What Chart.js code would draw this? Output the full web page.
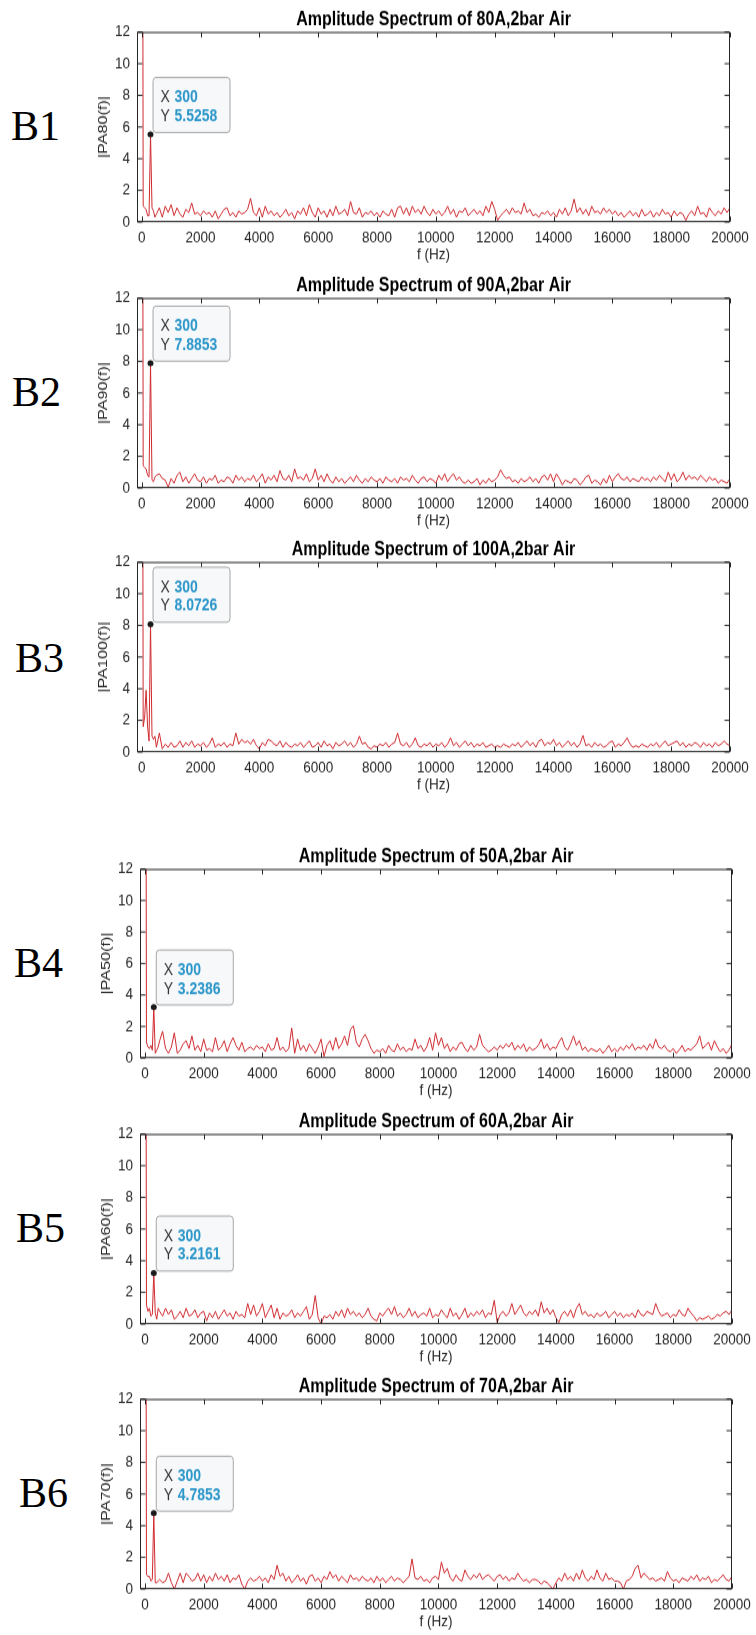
<!DOCTYPE html>
<html>
<head>
<meta charset="utf-8">
<script src="https://cdn.jsdelivr.net/npm/chart.js@4.4.0/dist/chart.umd.min.js"></script>
<style>
  body { margin: 0; background: #fff; }
  #page { position: relative; width: 756px; height: 1635px; overflow: hidden; background: #fff; }
  .panel { position: absolute; left: 0; width: 756px; }
  .panel canvas { display: block; transform-origin: 0 0; }
  .tag { position: absolute; font-family: "Liberation Serif", "Times New Roman", serif; font-size: 42px; line-height: 42px; color: #000; }
</style>
</head>
<body>
<div id="page"></div>
<script>
// FFT bins: 50 Hz steps below 500 Hz, then 100 Hz steps up to 20 kHz
const freqLowHz = [0, 50, 100, 150, 200, 250, 300, 350, 400, 450];
const highStartHz = 500;
const highStepHz = 100;

const xTickValues = [0, 2000, 4000, 6000, 8000, 10000, 12000, 14000, 16000, 18000, 20000];
const yTickValues = [0, 2, 4, 6, 8, 10, 12];

const titles = [
  "Amplitude Spectrum of 80A,2bar Air",
  "Amplitude Spectrum of 90A,2bar Air",
  "Amplitude Spectrum of 100A,2bar Air",
  "Amplitude Spectrum of 50A,2bar Air",
  "Amplitude Spectrum of 60A,2bar Air",
  "Amplitude Spectrum of 70A,2bar Air"
];
const yLabels = ["|PA80(f)|", "|PA90(f)|", "|PA100(f)|", "|PA50(f)|", "|PA60(f)|", "|PA70(f)|"];
const tags = ["B1", "B2", "B3", "B4", "B5", "B6"];
const tipHz = 300;
const tipValues = [5.5258, 7.8853, 8.0726, 3.2386, 3.2161, 4.7853];

// 80A
const amp80Low = [60, 1.0, 0.9, 0.8, 0.4, 0.4, 5.5258, 0.9, 0.7, 0.3];
const amp80High = [
  0.5, 0.9, 0.3, 1.0, 0.6, 1.1, 0.4, 0.9, 0.5, 0.3, 0.8, 0.6, 1.2, 0.5, 0.6,
  0.4, 0.7, 0.5, 0.6, 0.3, 0.7, 0.2, 0.5, 0.8, 0.9, 0.4, 0.6, 0.3, 0.7, 0.5, 0.6, 0.8, 1.5, 0.6, 0.4,
  0.9, 0.3, 1.0, 0.5, 0.7, 0.4, 0.6, 0.3, 0.5, 0.8, 0.4, 0.6, 0.2, 0.7, 0.5, 0.9, 0.4, 1.1, 0.6, 0.3,
  0.9, 0.5, 0.7, 0.3, 0.8, 0.4, 1.0, 0.5, 0.6, 0.8, 0.4, 1.3, 0.6, 0.5, 0.9, 0.3, 0.6, 0.5, 0.7, 0.4,
  0.6, 0.3, 0.7, 0.5, 0.4, 0.8, 0.3, 0.9, 1.0, 0.5, 0.9, 0.4, 1.0, 0.6, 0.8, 0.5, 1.0, 0.6, 0.4, 0.8,
  0.5, 0.7, 0.4, 0.6, 1.0, 0.5, 0.8, 0.3, 0.7, 0.6, 0.9, 0.4, 0.6, 0.8, 0.5, 0.7, 0.4, 1.0, 0.6, 1.3,
  0.8, 0.1, 0.4, 0.6, 0.8, 0.5, 0.9, 0.6, 0.7, 0.5, 1.2, 0.6, 0.8, 0.4, 0.5, 0.3, 0.6, 0.5, 0.7, 0.4,
  0.6, 0.3, 0.8, 0.5, 0.9, 0.4, 0.7, 1.45, 0.6, 0.9, 0.5, 0.8, 0.4, 1.0, 0.6, 0.7, 0.5, 0.9, 0.6, 0.8,
  0.5, 0.7, 0.4, 0.6, 0.3, 0.5, 0.7, 0.4, 0.6, 0.3, 0.8, 0.4, 0.5, 0.7, 0.3, 0.6, 0.4, 0.8, 0.5, 0.6,
  0.3, 0.7, 0.4, 0.6, 0.5, 0.1, 0.5, 0.7, 0.4, 1.0, 0.5, 0.6, 0.3, 0.9, 0.6, 0.4, 0.7, 0.5, 0.9, 0.6,
  0.9
];

// 90A
const amp90Low = [60, 1.4, 1.3, 1.2, 0.8, 0.7, 7.8853, 0.5, 0.4, 0.7];
const amp90High = [
  0.8, 0.9, 0.6, 0.5, 0.05, 0.6, 0.3, 0.8, 1.0, 0.4, 0.7, 0.3, 0.6, 0.9, 0.5,
  0.4, 0.7, 0.3, 0.6, 0.5, 0.8, 0.3, 0.5, 0.4, 0.7, 0.6, 0.3, 0.8, 0.5, 0.7, 0.4, 0.6, 0.5, 0.8, 0.4,
  0.6, 0.9, 0.3, 0.7, 0.5, 0.8, 0.4, 1.1, 0.6, 0.5, 0.8, 0.4, 1.2, 0.6, 0.7, 0.5, 0.9, 0.4, 0.6, 1.2,
  0.5, 0.8, 0.4, 0.9, 0.5, 0.3, 0.7, 0.4, 0.6, 0.3, 0.5, 0.7, 0.4, 0.8, 0.5, 0.3, 0.6, 0.4, 0.7, 0.5,
  0.4, 0.6, 0.3, 0.7, 0.5, 0.4, 0.6, 0.3, 0.7, 0.5, 0.6, 0.4, 0.8, 0.5, 0.3, 0.6, 0.7, 0.4, 0.6, 0.5,
  0.3, 0.8, 0.5, 0.9, 0.4, 0.7, 0.9, 0.5, 0.7, 0.4, 0.3, 0.5, 0.3, 0.4, 0.6, 0.2, 0.5, 0.3, 0.6, 0.4,
  0.5, 0.7, 1.15, 0.8, 0.6, 0.7, 0.4, 0.5, 0.3, 0.6, 0.4, 0.5, 0.7, 0.4, 0.6, 0.3, 0.7, 0.8, 0.5, 0.9,
  0.4, 0.9, 0.6, 0.2, 0.5, 0.4, 0.3, 0.6, 0.5, 0.2, 0.4, 0.7, 0.8, 0.3, 0.5, 0.4, 0.2, 0.6, 0.3, 0.8,
  0.4, 0.7, 0.9, 0.6, 0.5, 0.7, 0.4, 0.6, 0.5, 0.4, 0.7, 0.5, 0.6, 0.4, 0.7, 0.5, 0.8, 0.6, 0.4, 1.0,
  0.5, 0.9, 0.4, 0.6, 1.0, 0.5, 0.8, 0.6, 0.7, 0.5, 0.8, 0.6, 0.4, 0.7, 0.5, 0.6, 0.3, 0.5, 0.4, 0.3,
  0.6
];

// 100A
const amp100Low = [60, 1.6, 2.2, 3.9, 1.6, 0.7, 8.0726, 1.0, 0.8, 1.0];
const amp100High = [
  0.3, 1.2, 0.2, 0.5, 0.3, 0.6, 0.3, 0.4, 0.7, 0.3, 0.6, 0.4, 0.7, 0.3, 0.5,
  0.4, 0.6, 0.3, 0.5, 0.9, 0.3, 0.5, 0.4, 0.6, 0.3, 0.5, 0.4, 1.2, 0.5, 0.8, 0.6, 0.7, 0.5, 0.8, 0.4,
  0.2, 0.6, 0.4, 0.8, 0.7, 0.5, 0.4, 0.7, 0.3, 0.6, 0.4, 0.3, 0.5, 0.4, 0.6, 0.3, 0.5, 0.7, 0.3, 0.4,
  0.6, 0.3, 0.7, 0.4, 0.5, 0.2, 0.6, 0.4, 0.5, 0.7, 0.4, 0.6, 0.3, 0.5, 1.0, 0.5, 0.6, 0.3, 0.2, 0.4,
  0.3, 0.5, 0.4, 0.6, 0.3, 0.5, 0.6, 1.2, 0.5, 0.4, 0.6, 0.3, 0.5, 0.9, 0.4, 0.3, 0.5, 0.4, 0.6, 0.3,
  0.5, 0.4, 0.6, 0.3, 0.5, 0.9, 0.4, 0.6, 0.3, 0.5, 0.7, 0.4, 0.6, 0.3, 0.5, 0.4, 0.6, 0.3, 0.4, 0.5,
  0.3, 0.4, 0.3, 0.5, 0.4, 0.3, 0.5, 0.4, 0.6, 0.3, 0.5, 0.7, 0.4, 0.6, 0.3, 0.7, 0.8, 0.4, 0.6, 0.5,
  0.8, 0.4, 0.6, 0.3, 0.5, 0.7, 0.4, 0.6, 0.3, 0.5, 1.05, 0.4, 0.5, 0.3, 0.6, 0.4, 0.5, 0.3, 0.4, 0.6,
  0.7, 0.3, 0.5, 0.4, 0.6, 0.9, 0.5, 0.3, 0.4, 0.3, 0.5, 0.4, 0.3, 0.5, 0.4, 0.6, 0.3, 0.5, 0.7, 0.4,
  0.5, 0.6, 0.7, 0.4, 0.6, 0.3, 0.5, 0.4, 0.6, 0.5, 0.3, 0.6, 0.4, 0.5, 0.3, 0.6, 0.4, 0.5, 0.7, 0.5,
  0.4
];

// 50A
const amp50Low = [60, 1.0, 0.7, 0.6, 0.8, 0.5, 3.2386, 0.3, 0.5, 0.7];
const amp50High = [
  1.1, 1.7, 0.6, 0.3, 0.7, 1.6, 0.3, 0.5, 0.9, 1.1, 0.6, 1.4, 0.5, 0.8, 0.4,
  1.2, 0.5, 0.6, 0.4, 1.3, 0.5, 0.7, 1.1, 0.4, 0.9, 1.3, 0.8, 0.5, 1.0, 0.4, 0.6, 0.7, 0.5, 0.8, 0.6,
  0.7, 0.4, 0.9, 0.5, 0.6, 1.3, 0.5, 0.7, 0.4, 0.6, 1.9, 0.3, 1.2, 0.5, 0.8, 0.4, 0.9, 0.6, 0.3, 0.7,
  1.2, 0.1, 0.8, 1.1, 0.5, 1.3, 0.6, 0.9, 1.4, 0.8, 1.8, 2.05, 1.0, 0.7, 1.2, 1.5, 1.1, 0.6, 0.3, 0.5,
  0.4, 0.6, 0.3, 0.8, 0.5, 0.4, 0.9, 0.5, 0.7, 0.4, 0.6, 0.5, 1.2, 0.6, 0.8, 0.4, 0.7, 1.3, 0.5, 1.6,
  0.8, 1.3, 0.6, 0.9, 0.4, 0.7, 0.5, 0.9, 1.0, 0.6, 0.4, 0.8, 0.5, 0.7, 1.5, 0.8, 0.6, 0.4, 0.5, 0.7,
  0.5, 0.8, 0.6, 0.9, 0.7, 1.0, 0.5, 0.8, 0.6, 0.9, 0.4, 0.7, 0.5, 0.6, 0.8, 1.2, 0.6, 0.9, 0.5, 0.7,
  0.6, 1.0, 1.3, 0.7, 0.5, 0.9, 1.4, 0.8, 1.1, 0.5, 0.7, 0.4, 0.6, 0.5, 0.4, 0.6, 0.3, 0.5, 0.8, 0.4,
  0.6, 0.4, 0.7, 0.5, 0.8, 0.6, 0.9, 0.5, 0.7, 0.6, 0.8, 0.5, 0.9, 0.6, 1.2, 0.7, 0.6, 0.8, 0.5, 0.4,
  0.6, 0.3, 0.5, 0.8, 0.4, 0.6, 0.5, 0.7, 0.9, 1.4, 0.6, 0.8, 1.0, 0.5, 1.1, 0.7, 0.4, 0.6, 0.3, 0.5,
  0.9
];

// 60A
const amp60Low = [60, 1.2, 0.8, 1.0, 0.5, 0.6, 3.2161, 0.7, 0.3, 1.0];
const amp60High = [
  0.8, 0.5, 1.0, 0.6, 0.9, 0.3, 0.5, 0.8, 0.4, 1.0, 0.5, 0.6, 0.9, 0.4, 0.7,
  0.8, 0.2, 0.7, 0.4, 0.8, 0.3, 0.6, 0.9, 0.5, 0.7, 0.3, 0.8, 0.5, 0.6, 0.4, 1.3, 0.6, 1.2, 0.5, 0.8,
  1.3, 0.4, 0.8, 1.2, 0.4, 1.0, 0.3, 0.7, 0.5, 0.6, 0.9, 0.4, 0.7, 0.5, 0.8, 1.1, 0.3, 0.6, 1.8, 0.4,
  0.0, 0.5, 0.4, 0.6, 0.3, 0.8, 0.5, 0.9, 0.4, 1.0, 0.6, 0.8, 0.5, 0.7, 0.4, 0.6, 1.0, 0.5, 0.3, 0.2,
  0.7, 0.5, 0.8, 1.0, 0.6, 1.1, 0.5, 0.7, 0.4, 0.6, 1.0, 0.5, 0.8, 0.4, 0.6, 0.7, 0.5, 1.0, 0.4, 0.6,
  0.5, 0.9, 0.6, 0.4, 1.0, 0.5, 0.7, 0.3, 0.6, 1.0, 0.4, 0.7, 0.5, 0.8, 0.6, 0.9, 0.4, 0.7, 0.6, 1.5,
  0.1, 0.6, 0.8, 0.5, 0.7, 1.3, 0.6, 0.9, 1.2, 0.7, 0.5, 0.8, 0.6, 0.9, 0.5, 1.4, 0.7, 1.0, 0.6, 0.9,
  0.4, 0.1, 0.6, 0.8, 0.5, 0.9, 0.4, 1.0, 1.3, 0.6, 0.8, 0.5, 0.6, 0.4, 0.7, 0.5, 0.6, 0.8, 0.4, 0.6,
  0.8, 0.5, 0.7, 0.4, 0.6, 0.5, 0.7, 0.4, 0.9, 0.6, 0.5, 0.8, 0.7, 0.6, 1.3, 0.8, 0.5, 0.6, 0.7, 0.4,
  0.6, 0.5, 0.9, 0.6, 0.5, 1.0, 0.7, 0.5, 0.2, 0.4, 0.3, 0.4, 0.5, 0.3, 0.4, 0.6, 0.5, 0.7, 0.8, 0.6,
  0.9
];

// 70A
const amp70Low = [60, 0.9, 0.8, 0.8, 0.5, 0.6, 4.7853, 0.4, 0.4, 0.5];
const amp70High = [
  0.6, 0.4, 0.5, 1.0, 0.4, 0.0, 0.5, 1.0, 0.4, 1.0, 0.8, 0.5, 0.6, 1.0, 0.5,
  0.9, 0.4, 0.8, 0.5, 1.0, 0.6, 0.8, 0.5, 0.9, 0.4, 0.7, 0.6, 0.9, 0.3, 0.0, 0.5, 0.7, 0.5, 0.6, 0.8,
  0.5, 0.7, 0.4, 0.9, 0.6, 1.5, 0.8, 1.0, 0.5, 0.8, 0.4, 0.6, 0.9, 0.5, 0.7, 0.3, 0.8, 0.9, 0.5, 0.7,
  0.4, 0.8, 0.6, 1.1, 0.7, 0.9, 0.5, 0.8, 0.6, 0.4, 0.9, 0.6, 0.7, 0.5, 0.8, 0.6, 0.5, 0.7, 0.4, 0.8,
  0.5, 0.7, 0.4, 0.6, 0.8, 0.5, 0.7, 0.6, 0.4, 0.6, 0.8, 1.9, 0.7, 0.6, 0.8, 0.5, 0.6, 0.4, 0.7, 0.8,
  0.6, 1.7, 1.0, 1.3, 0.7, 0.5, 0.9, 0.6, 0.5, 1.2, 0.8, 0.6, 0.9, 0.7, 1.0, 0.6, 0.8, 0.9, 0.7, 0.5,
  0.8, 0.9, 0.6, 0.8, 0.5, 0.7, 0.6, 1.0, 0.7, 0.5, 0.6, 0.4, 0.6, 0.6, 0.5, 0.3, 0.5, 0.4, 0.2, 0.0,
  0.4, 0.7, 0.5, 1.0, 0.6, 0.8, 0.5, 1.0, 0.6, 1.2, 0.7, 0.5, 0.8, 0.6, 1.2, 0.7, 0.5, 1.0, 0.6, 0.7,
  0.5, 0.5, 0.4, 0.0, 0.5, 0.6, 0.8, 1.3, 1.5, 0.7, 1.0, 0.8, 0.6, 0.7, 0.5, 0.6, 0.7, 0.5, 1.1, 0.7,
  0.5, 0.6, 0.4, 0.7, 0.6, 0.5, 0.8, 0.6, 0.9, 0.5, 0.7, 0.6, 0.8, 0.4, 0.6, 0.5, 0.7, 0.9, 0.6, 0.5,
  0.8
];

const lowSeries = [amp80Low, amp90Low, amp100Low, amp50Low, amp60Low, amp70Low];
const highSeries = [amp80High, amp90High, amp100High, amp50High, amp60High, amp70High];

// where each subplot sits on the page (plot box edges, px)
const panels = [
  { top: 32, bottom: 222, left: 137, right: 730, xMin: -160, tagX: 11, tagY: 126 },
  { top: 298, bottom: 488, left: 137, right: 730, xMin: -160, tagX: 12, tagY: 392 },
  { top: 562, bottom: 752, left: 137, right: 730, xMin: -160, tagX: 15, tagY: 658 },
  { top: 869, bottom: 1058, left: 140, right: 732, xMin: -170, tagX: 14, tagY: 963 },
  { top: 1134, bottom: 1324, left: 140, right: 732, xMin: -170, tagX: 16, tagY: 1228 },
  { top: 1399, bottom: 1589, left: 140, right: 732, xMin: -170, tagX: 19, tagY: 1493 }
];

const FONT = "'Liberation Sans', Arial, Helvetica, sans-serif";
const axisColor = "#262626";
const lineColor = "#cf2a2f";
// the source figure was stretched vertically; canvases are drawn short and scaled back up
const STRETCH = 1.2;
const Y_AXIS_W = 45;
const TITLE_H = 32;   // page px above the plot box
const X_AXIS_H = 45;  // page px below the plot box
const page = document.getElementById("page");

// box round the axes with inward ticks, then the data tip
const matlabAxes = {
  id: "matlabAxes",
  afterDraw(chart, args, opts) {
    const { ctx, chartArea: a, scales: { x, y } } = chart;
    const l = Math.round(a.left) + 0.5, r = Math.round(a.right) - 0.5;
    const t = a.top + 0.4, b = a.bottom - 0.4;
    const tv = 5 / STRETCH;
    ctx.save();
    ctx.strokeStyle = axisColor;
    ctx.lineWidth = 1;
    ctx.strokeRect(l, t, r - l, b - t);
    ctx.beginPath();
    xTickValues.forEach(v => {
      const px = Math.round(x.getPixelForValue(v)) + 0.5;
      ctx.moveTo(px, t); ctx.lineTo(px, t + tv);
      ctx.moveTo(px, b); ctx.lineTo(px, b - tv);
    });
    yTickValues.forEach(v => {
      const py = y.getPixelForValue(v);
      ctx.moveTo(l, py); ctx.lineTo(l + 5, py);
      ctx.moveTo(r, py); ctx.lineTo(r - 5, py);
    });
    ctx.stroke();

    const px = x.getPixelForValue(tipHz);
    const py = y.getPixelForValue(opts.value);
    const bx = px + 2, by = py - 57 / STRETCH, bw = 77, bh = 55 / STRETCH;
    ctx.fillStyle = "rgba(246,248,250,0.96)";
    ctx.strokeStyle = "#a6a6a6";
    ctx.beginPath();
    ctx.roundRect(bx + 0.5, by, bw, bh, 3);
    ctx.fill();
    ctx.stroke();
    ctx.fillStyle = "#1a1a1a";
    ctx.beginPath();
    ctx.ellipse(px, py, 3, 3 / STRETCH, 0, 0, Math.PI * 2);
    ctx.fill();
    ctx.textBaseline = "middle";
    ctx.textAlign = "left";
    ctx.font = "14px " + FONT;
    ctx.fillStyle = "#333";
    ctx.fillText("X", bx + 8, by + 20 / STRETCH);
    ctx.fillText("Y", bx + 8, by + 39 / STRETCH);
    ctx.font = "bold 14px " + FONT;
    ctx.fillStyle = "#2b96c9";
    ctx.fillText(String(tipHz), bx + 22, by + 20 / STRETCH);
    ctx.fillText(opts.value.toFixed(4), bx + 22, by + 39 / STRETCH);
    ctx.restore();
  }
};

function makePanel(i) {
  const p = panels[i];
  const titleH = TITLE_H / STRETCH;
  const plotH = (p.bottom - p.top) / STRETCH;
  const canvasH = Math.ceil(titleH + plotH + X_AXIS_H / STRETCH);
  const xAxisH = canvasH - titleH - plotH;

  const tag = document.createElement("div");
  tag.className = "tag";
  tag.textContent = tags[i];
  tag.style.left = p.tagX + "px";
  tag.style.top = (p.tagY - 21) + "px";
  page.appendChild(tag);

  const wrap = document.createElement("div");
  wrap.className = "panel";
  wrap.style.top = (p.top - TITLE_H) + "px";
  wrap.style.height = Math.ceil(canvasH * STRETCH) + "px";
  const canvas = document.createElement("canvas");
  canvas.width = 756;
  canvas.height = canvasH;
  canvas.style.transform = "scaleY(" + STRETCH + ")";
  wrap.appendChild(canvas);
  page.appendChild(wrap);

  const points = [];
  lowSeries[i].forEach((v, k) => points.push({ x: freqLowHz[k], y: v }));
  highSeries[i].forEach((v, k) => points.push({ x: highStartHz + k * highStepHz, y: v }));

  const tickFont = { family: FONT, size: 13.5 };
  const titleFontSize = 16;
  // title centre 12 page px above the plot box
  const titleTop = titleH - 12.2 / STRETCH - titleFontSize * 0.6;
  // x tick labels 16 px and axis title 33 px below the plot box
  const xTickPad = 16 / STRETCH - 8.1;
  const xTitleBottom = xAxisH - 33 / STRETCH - 8.1;

  new Chart(canvas.getContext("2d"), {
    type: "line",
    data: {
      datasets: [{
        data: points,
        borderColor: lineColor,
        borderWidth: 1,
        pointRadius: 0,
        tension: 0
      }]
    },
    options: {
      responsive: false,
      animation: false,
      devicePixelRatio: 1,
      layout: { padding: { left: p.left - Y_AXIS_W, right: 756 - p.right, top: 0, bottom: 0 } },
      plugins: {
        legend: { display: false },
        tooltip: { enabled: false },
        title: {
          display: true,
          fullSize: false,
          text: titles[i],
          color: "#000",
          font: { family: FONT, size: titleFontSize, weight: "bold" },
          padding: { top: titleTop, bottom: titleH - titleTop - titleFontSize * 1.2 }
        },
        matlabAxes: { value: tipValues[i] }
      },
      scales: {
        x: {
          type: "linear",
          min: p.xMin,
          max: 20000,
          afterBuildTicks: s => { s.ticks = xTickValues.map(v => ({ value: v })); },
          afterFit: s => { s.height = xAxisH; },
          grid: { display: false, drawTicks: false },
          border: { display: false },
          ticks: { color: axisColor, font: tickFont, padding: xTickPad, maxRotation: 0, autoSkip: false, callback: v => String(v) },
          title: { display: true, text: "f (Hz)", color: axisColor, font: tickFont, padding: { top: 0, bottom: xTitleBottom } }
        },
        y: {
          min: 0,
          max: 12,
          afterBuildTicks: s => { s.ticks = yTickValues.map(v => ({ value: v })); },
          afterFit: s => { s.width = Y_AXIS_W; },
          grid: { display: false, drawTicks: false },
          border: { display: false },
          ticks: { color: axisColor, font: tickFont, padding: 7, callback: v => String(v) },
          title: { display: true, text: yLabels[i], color: axisColor, font: tickFont, padding: { top: 2.9, bottom: 0 } }
        }
      }
    },
    plugins: [matlabAxes]
  });
}

panels.forEach((p, i) => makePanel(i));
</script>
</body>
</html>
